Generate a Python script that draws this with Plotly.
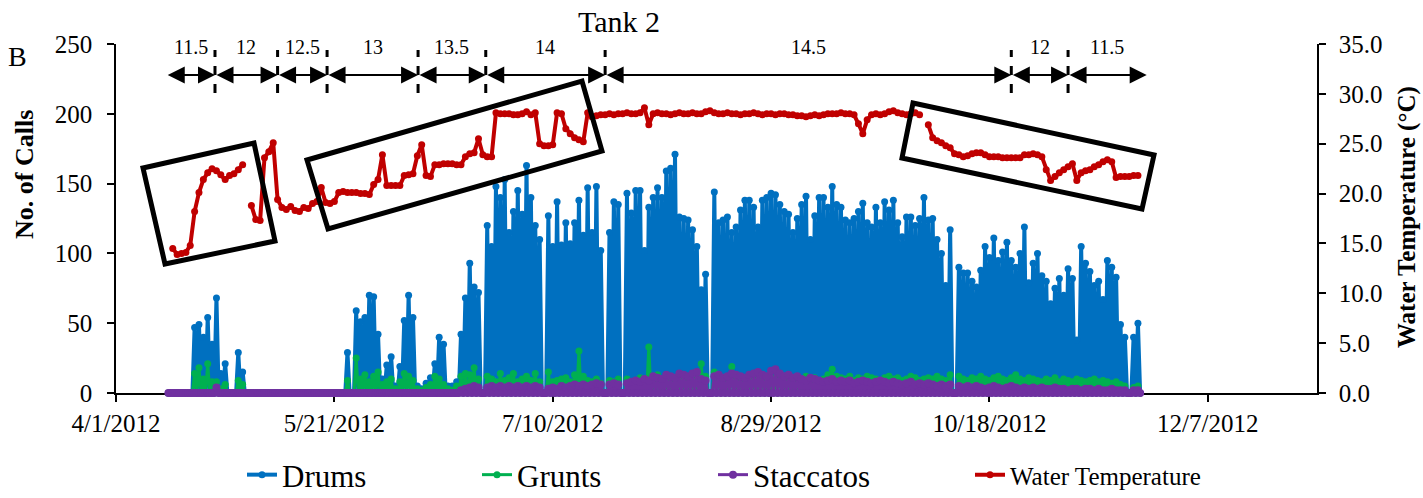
import pandas as pd
import plotly.graph_objects as go

# ---------------- data (daily values, 2012-04-13 .. 2012-11-21) ----------------
START = "2012-04-13"

# nightly peak number of calls per day (daytime trough = 0)
drums = [
    0, 0, 0, 0, 0, 0,
    47, 49, 40, 54, 35, 68, 14, 21, 0, 0, 29, 15,
    0, 0, 0, 0, 0, 0, 0, 0, 0, 0, 0, 0, 0, 0, 0, 0, 0, 0, 0, 0, 0, 0, 0,
    29, 0, 59, 51, 54, 70, 69, 42, 10, 20, 26, 5, 19, 52, 70, 54, 5, 3, 7, 11,
    21, 40, 35, 5, 5, 8, 42, 68, 93, 76, 72, 0,
    120, 105, 148, 140, 153, 115, 130, 145, 128, 163, 140, 120, 110, 0,
    127, 105, 137, 106, 122, 107, 122, 138, 113, 147, 115, 148, 102, 0, 115, 137, 135, 0, 143, 129,
    145, 145, 102, 133, 140, 147, 140, 159, 161, 171, 126, 125, 124, 117, 105, 74, 85, 0,
    144, 122, 124, 126, 115, 119, 131, 138, 138, 133, 119, 138, 140, 143, 142, 135, 130, 128, 115, 125,
    135, 141, 110, 127, 140, 140, 133, 148, 135, 133, 124, 122, 125, 130, 136, 122, 119, 133, 122, 137,
    131, 138, 122, 112, 126, 126, 120, 125, 140, 124, 125, 110, 100, 77, 117,
    0,
    90, 86, 86, 80, 76, 88, 105, 97, 111, 95, 101, 108, 95, 90, 100, 119, 79, 93, 100, 84,
    80, 64, 75, 82, 70, 89, 82, 38, 105, 93, 87, 77, 80, 67, 95, 90, 83, 49, 40, 0,
    40, 50,
]

grunts = [
    0, 0, 0, 0, 0, 0,
    14, 18, 10, 21, 8, 8, 3, 6, 0, 0, 9, 6,
    0, 0, 0, 0, 0, 0, 0, 0, 0, 0, 0, 0, 0, 0, 0, 0, 0, 0, 0, 0, 0, 0, 0,
    9, 0, 25, 10, 13, 8, 12, 15, 6, 8, 10, 3, 8, 14, 12, 9, 3, 2, 4, 6,
    12, 10, 6, 3, 2, 5, 12, 14, 13, 18, 10, 0,
    12, 10, 8, 14, 9, 11, 14, 8, 10, 12, 9, 14, 8, 0,
    15, 8, 9, 10, 11, 8, 13, 30, 12, 9, 8, 10, 7, 0, 9, 8, 10, 0, 10, 8,
    9, 11, 10, 33, 10, 13, 9, 11, 10, 8, 9, 10, 8, 12, 10, 21, 12, 0,
    15, 12, 10, 9, 19, 11, 10, 9, 10, 11, 9, 12, 10, 8, 11, 13, 10, 9, 11, 10,
    9, 12, 10, 11, 9, 10, 13, 17, 12, 11, 10, 12, 9, 11, 10, 12, 11, 10, 9, 11,
    12, 10, 11, 9, 10, 12, 11, 9, 10, 11, 10, 12, 10, 9, 13,
    0,
    12, 10, 9, 11, 10, 12, 10, 9, 11, 12, 10, 9, 11, 13, 10, 9, 11, 10, 9, 8,
    10, 9, 11, 8, 10, 9, 8, 10, 9, 8, 9, 10, 8, 9, 8, 7, 8, 6, 5, 0,
    4, 5,
]

staccatos = [
    0, 0, 0, 0, 0, 0, 0, 0, 0, 0, 0, 4,
    0, 0, 0, 0, 0, 0, 0, 0, 0, 0, 0, 0, 0, 0, 0, 0, 0, 0, 0, 0, 0, 0, 0, 0,
    0, 0, 0, 0, 0, 0, 0, 0, 0, 0, 0, 0, 0, 0, 0, 0, 0, 0, 0, 0, 0, 0, 0, 0,
    0, 0, 0, 0, 0, 0, 0, 2, 3, 4, 5, 4, 0,
    4, 5, 4, 5, 4, 5, 4, 5, 4, 5, 4, 5, 4, 0,
    3, 4, 3, 5, 4, 5, 6, 5, 6, 5, 6, 7, 6, 0, 6, 7, 6, 0, 7, 8,
    9, 8, 10, 9, 12, 11, 10, 13, 12, 11, 14, 13, 12, 14, 15, 10, 9, 0,
    12, 13, 11, 12, 14, 13, 12, 11, 13, 14, 15, 13, 12, 16, 17, 14, 12, 13, 11, 12,
    10, 9, 11, 10, 9, 8, 9, 10, 8, 9, 8, 9, 7, 8, 9, 8, 7, 8, 9, 8,
    7, 8, 7, 6, 7, 8, 6, 7, 6, 7, 6, 5, 6, 5, 6,
    0,
    5, 4, 5, 4, 5, 4, 3, 4, 5, 4, 3, 4, 5, 4, 3, 4, 3, 4, 3, 4,
    3, 3, 4, 3, 3, 2, 3, 3, 2, 3, 3, 2, 3, 2, 2, 3, 2, 2, 2, 0,
    2, 2,
]

water_temp = [
    None,
    14.5, 13.9, 14.0, 14.1, 14.8, 18.2, 20.1, 21.4, 22.1, 22.5, 22.3, 21.9, 21.4, 21.8, 22.0, 22.4, 22.9,
    None,
    18.8, 17.4, 17.3, 23.6, 24.2, 25.1, 19.4,
    18.6, 18.4, 18.7, 18.3, 18.2, 18.6, 18.5, 19.0, 19.2, 20.6, 19.1, 19.0, 19.2, 20.1, 20.2, 20.1,
    20.1, 20.1, 20.0, 20.0, 19.9, 20.9, 21.4, 23.9, 20.8, 20.8, 20.8, 20.8, 21.8, 21.9, 22.0, 23.8,
    24.9, 21.8, 21.7, 22.9, 22.9, 23.0, 23.0, 23.0, 22.9, 22.9, 23.7, 24.0, 24.1, 25.5, 23.9, 23.7, 23.7,
    28.1, 28.0, 28.0, 28.0, 27.9, 27.9, 28.0, 28.2, 27.9, 28.1, 25.0, 24.8, 24.8, 24.9, 28.1, 28.0,
    26.5, 26.0, 25.6, 25.4, 25.2, 28.1, 27.7, 27.8,
    27.9, 27.9, 28.0, 27.9, 28.0, 28.0, 28.1, 28.0, 28.0, 28.1,
    28.6, 26.9, 28.0, 28.1, 28.0, 28.0, 27.9, 28.0, 28.1, 28.0,
    28.0, 28.1, 28.0, 28.0, 28.2, 28.3, 28.1, 28.0, 28.0, 28.1,
    28.0, 28.0, 27.9, 28.0, 28.0, 28.1, 28.0, 27.9, 28.0, 28.0,
    27.9, 28.0, 28.0, 27.9, 27.9, 27.8, 27.8, 27.7, 27.8, 27.9,
    27.8, 27.9, 28.0, 28.0, 28.0, 28.1, 28.0, 28.0, 27.9, 27.0,
    26.0, 27.4, 27.9, 28.0, 27.9, 28.0, 28.2, 28.3, 28.1, 28.0,
    27.9, 28.0, 28.1, 27.9,
    None,
    26.9, 25.6, 25.3, 25.1, 24.8, 24.6, 24.0, 23.9, 23.7, 23.8, 24.0, 24.1, 24.1, 23.9, 23.7,
    23.7, 23.7, 23.6, 23.6, 23.6, 23.6, 23.6, 23.9, 23.9, 24.0, 23.9, 23.7, 22.4, 21.3, 21.7,
    22.1, 22.4, 22.7, 23.0, 21.3, 22.1, 22.3, 22.4, 22.7, 22.9, 23.2, 23.4, 23.2, 21.6, 21.7,
    21.7, 21.7, 21.8, 21.8,
]

x_tick_vals = ["2012-04-01", "2012-05-21", "2012-07-10", "2012-08-29", "2012-10-18", "2012-12-07"]
x_tick_text = ["4/1/2012", "5/21/2012", "7/10/2012", "8/29/2012", "10/18/2012", "12/7/2012"]

salinity_labels = ["11.5", "12", "12.5", "13", "13.5", "14", "14.5", "12", "11.5"]
salinity_bounds = ["2012-04-12 12:00", "2012-04-23 16:00", "2012-05-08 00:00", "2012-05-19 08:00",
                   "2012-06-09 04:00", "2012-06-24 16:00", "2012-07-22 00:00", "2012-10-23 00:00",
                   "2012-11-05 00:00", "2012-11-23 00:00"]

# ---------------- layout constants ----------------
W, H = 1423, 498
ML, MR, MT, MB = 116, 106, 44, 105
PW, PH = W - ML - MR, H - MT - MB
X_MIN, X_MAX = "2012-04-01", "2013-01-01"
FONT = "Liberation Serif"

BLUE, GREEN, PURPLE, RED = "#0070C0", "#00B050", "#7030A0", "#C00000"


def px_to_paper(px, py):
    return (px - ML) / PW, (H - MB - py) / PH


days = pd.date_range(START, periods=len(drums), freq="D")


def diel(values):
    xs, ys = [], []
    for d, v in zip(days, values):
        xs += [d, d + pd.Timedelta(hours=12)]
        ys += [v, 0]
    return xs, ys


fig = go.Figure()

for name, vals, col, lg, msize, lw in [
    ("Drums", drums, BLUE, "legend", 7, 4),
    ("Grunts", grunts, GREEN, "legend2", 7, 3),
    ("Staccatos", staccatos, PURPLE, "legend3", 8, 3),
]:
    xs, ys = diel(vals)
    fig.add_trace(go.Scatter(
        x=xs, y=ys, name=name, mode="lines+markers",
        line=dict(color=col, width=lw), marker=dict(color=col, size=msize),
        cliponaxis=False, legend=lg, yaxis="y", showlegend=True,
    ))

fig.add_trace(go.Scatter(
    x=days, y=water_temp, name="Water Temperature", mode="lines+markers",
    line=dict(color=RED, width=4), marker=dict(color=RED, size=7),
    connectgaps=False, cliponaxis=False, legend="legend4", yaxis="y2", showlegend=True,
))

axis_common = dict(
    showline=True, linecolor="black", linewidth=1.5, ticks="outside", ticklen=7,
    tickwidth=1.5, tickcolor="black", showgrid=False, zeroline=False,
    tickfont=dict(family=FONT, size=25, color="black"), layer="below traces",
    automargin=False,
)

fig.update_layout(
    width=W, height=H,
    margin=dict(l=ML, r=MR, t=MT, b=MB, autoexpand=False),
    paper_bgcolor="white", plot_bgcolor="white",
    font=dict(family=FONT, color="black"),
    showlegend=True,
    xaxis=dict(type="date", range=[X_MIN, X_MAX], tickvals=x_tick_vals, ticktext=x_tick_text,
               **axis_common),
    yaxis=dict(range=[0, 250], tickvals=[0, 50, 100, 150, 200, 250], ticklabelstandoff=10,
               **axis_common),
    yaxis2=dict(range=[0, 35], tickvals=[0, 5, 10, 15, 20, 25, 30, 35], tickformat=".1f",
                overlaying="y", side="right", ticklabelstandoff=8, **axis_common),
    hovermode=False,
)

# legends (one per series, laid out in a row below the chart)
leg_y = px_to_paper(0, 475)[1]
for key, px, size in [("legend", 242, 31), ("legend2", 477, 31), ("legend3", 713, 31), ("legend4", 970, 25)]:
    fig.update_layout({key: dict(
        x=px_to_paper(px, 0)[0], y=leg_y, xanchor="left", yanchor="middle",
        orientation="h", bgcolor="rgba(0,0,0,0)", borderwidth=0,
        font=dict(family=FONT, size=size, color="black"), itemwidth=30, visible=True,
    )})

annotations = []
shapes = []

# titles
for text, (px, py), size, bold, angle in [
    ("B", (17, 56), 28, False, 0),
    ("Tank 2", (619, 22), 30, False, 0),
    ("No. of Calls", (24, 175), 26, True, -90),
    ("Water Temperature (°C)", (1407, 217), 25, True, -90),
]:
    ax_, ay_ = px_to_paper(px, py)
    annotations.append(dict(
        x=ax_, y=ay_, xref="paper", yref="paper", showarrow=False,
        text=f"<b>{text}</b>" if bold else text, textangle=angle,
        font=dict(family=FONT, size=size, color="black"), xanchor="center", yanchor="middle",
    ))

# salinity arrows
px_per_day = PW / ((pd.Timestamp(X_MAX) - pd.Timestamp(X_MIN)) / pd.Timedelta(days=1))
arrow_y = px_to_paper(0, 75)[1]
label_y = px_to_paper(0, 47)[1]
for i, lab in enumerate(salinity_labels):
    a = pd.Timestamp(salinity_bounds[i])
    b = pd.Timestamp(salinity_bounds[i + 1])
    length = (b - a) / pd.Timedelta(days=1) * px_per_day
    annotations.append(dict(
        x=b.isoformat(), y=arrow_y, xref="x", yref="paper", ax=-length, ay=0,
        axref="pixel", ayref="pixel", showarrow=True, text="",
        arrowside="end+start", arrowhead=2, startarrowhead=2,
        arrowsize=1.7, startarrowsize=1.7, arrowwidth=2, arrowcolor="black",
        standoff=0, startstandoff=0,
    ))
    mid = a + (b - a) / 2
    annotations.append(dict(
        x=mid.isoformat(), y=label_y, xref="x", yref="paper", showarrow=False, text=lab,
        font=dict(family=FONT, size=20, color="black"), xanchor="center", yanchor="middle",
    ))

sep_y0 = px_to_paper(0, 93)[1]
sep_y1 = px_to_paper(0, 50)[1]
for bd in salinity_bounds[1:-1]:
    t = pd.Timestamp(bd).isoformat()
    shapes.append(dict(type="line", xref="x", yref="paper", x0=t, x1=t, y0=sep_y0, y1=sep_y1,
                       line=dict(color="black", width=3, dash="dash")))

# tilted highlight boxes
boxes = [
    [(143, 168), (254, 143), (275, 241), (165, 264)],
    [(307, 160), (582, 81), (602, 151), (328, 229)],
    [(913, 103), (1154, 155), (1142, 209), (902, 158)],
]
for box in boxes:
    pts = [px_to_paper(*p) for p in box]
    path = "M " + " L ".join(f"{x:.5f},{y:.5f}" for x, y in pts) + " Z"
    shapes.append(dict(type="path", xref="paper", yref="paper", path=path,
                       line=dict(color="black", width=5), fillcolor="rgba(0,0,0,0)"))

fig.update_layout(annotations=annotations, shapes=shapes)

fig.write_html("out.html")
